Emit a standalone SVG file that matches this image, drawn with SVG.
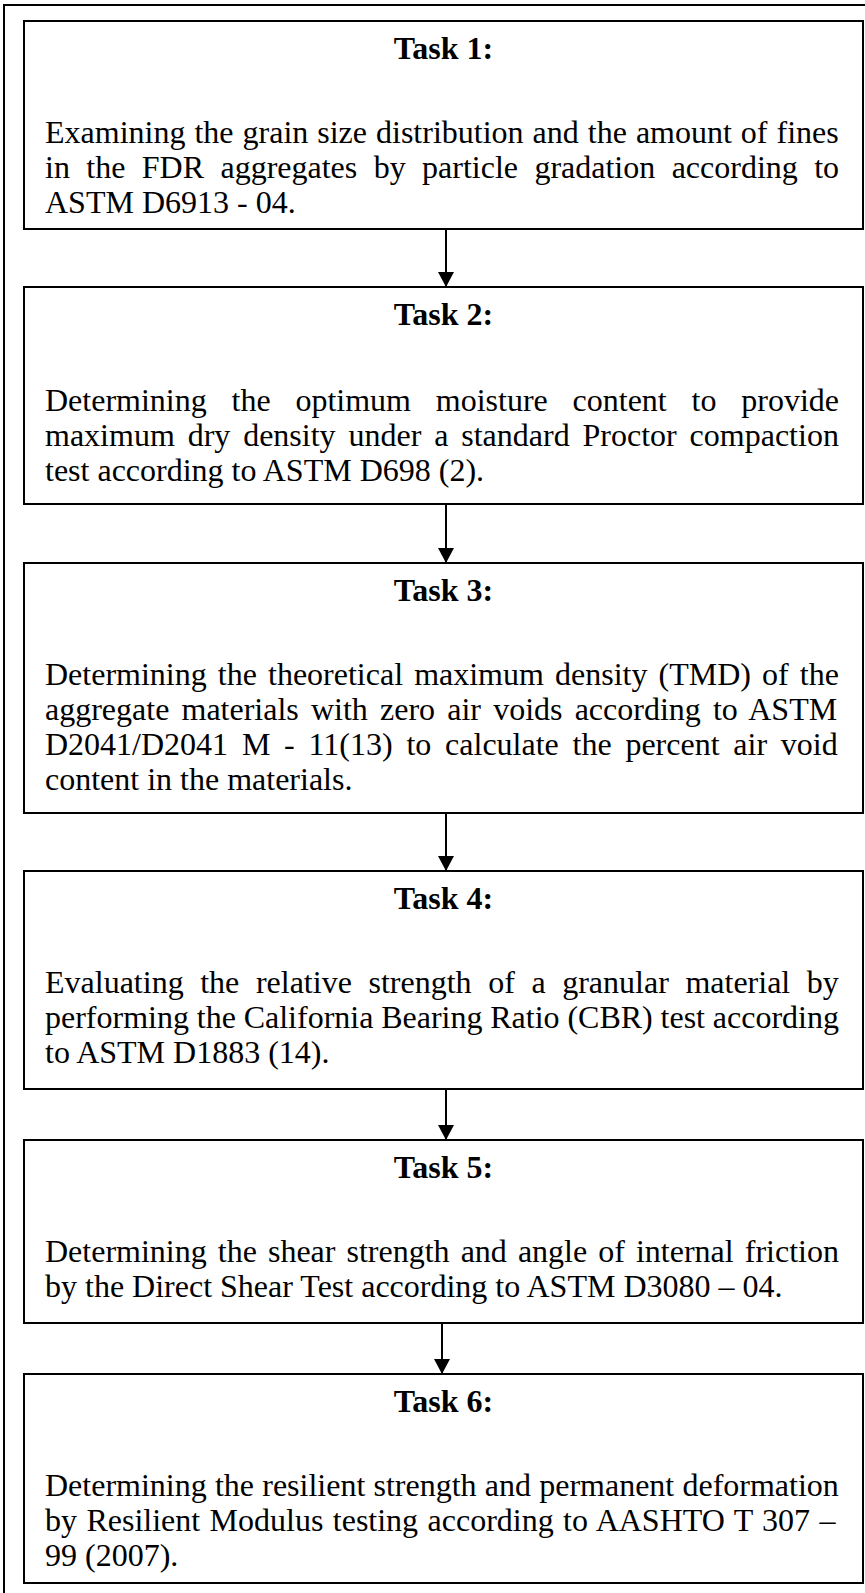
<svg xmlns="http://www.w3.org/2000/svg" width="865" height="1593" viewBox="0 0 865 1593">
<defs>
<style>
.frame{fill:none;stroke:#000;stroke-width:2}
.box{fill:#fff;stroke:#000;stroke-width:2}
.title{font-family:"Liberation Serif","Times New Roman",serif;font-size:32px;font-weight:bold;text-anchor:middle;fill:#000}
.body{font-family:"Liberation Serif","Times New Roman",serif;font-size:32px;fill:#000}
.conn{stroke:#000;stroke-width:2;fill:none}
</style>
<marker id="arr" markerUnits="userSpaceOnUse" markerWidth="16" markerHeight="16" viewBox="0 0 16 16" refX="15" refY="8" orient="auto">
<path d="M0,0 L15,8 L0,16 Z" fill="#000"/>
</marker>
</defs>
<rect width="865" height="1593" fill="#fff"/>
<rect class="frame" x="4" y="5" width="880" height="1610"/>
<g id="task1">
<rect class="box" x="24" y="21" width="839" height="208"/>
<text class="title" x="443.5" y="59">Task 1:</text>
<text class="body" x="45" y="143" word-spacing="1">Examining the grain size distribution and the amount of fines</text>
<text class="body" x="45" y="178" word-spacing="8.4">in the FDR aggregates by particle gradation according to</text>
<text class="body" x="45" y="213">ASTM D6913 - 04.</text>
</g>
<g id="task2">
<rect class="box" x="24" y="287" width="839" height="217"/>
<text class="title" x="443.5" y="325">Task 2:</text>
<text class="body" x="45" y="411" word-spacing="16.8">Determining the optimum moisture content to provide</text>
<text class="body" x="45" y="446" word-spacing="4.87">maximum dry density under a standard Proctor compaction</text>
<text class="body" x="45" y="481">test according to ASTM D698 (2).</text>
</g>
<g id="task3">
<rect class="box" x="24" y="563" width="839" height="250"/>
<text class="title" x="443.5" y="601">Task 3:</text>
<text class="body" x="45" y="685" word-spacing="3.09">Determining the theoretical maximum density (TMD) of the</text>
<text class="body" x="45" y="720" word-spacing="4.16">aggregate materials with zero air voids according to ASTM</text>
<text class="body" x="45" y="755" word-spacing="5.77">D2041/D2041 M - 11(13) to calculate the percent air void</text>
<text class="body" x="45" y="790">content in the materials.</text>
</g>
<g id="task4">
<rect class="box" x="24" y="871" width="839" height="218"/>
<text class="title" x="443.5" y="909">Task 4:</text>
<text class="body" x="45" y="993" word-spacing="8.6">Evaluating the relative strength of a granular material by</text>
<text class="body" x="45" y="1028" word-spacing="-0.2">performing the California Bearing Ratio (CBR) test according</text>
<text class="body" x="45" y="1063">to ASTM D1883 (14).</text>
</g>
<g id="task5">
<rect class="box" x="24" y="1140" width="839" height="183"/>
<text class="title" x="443.5" y="1178">Task 5:</text>
<text class="body" x="45" y="1262" word-spacing="3.05">Determining the shear strength and angle of internal friction</text>
<text class="body" x="45" y="1297">by the Direct Shear Test according to ASTM D3080 – 04.</text>
</g>
<g id="task6">
<rect class="box" x="24" y="1374" width="839" height="209"/>
<text class="title" x="443.5" y="1412">Task 6:</text>
<text class="body" x="45" y="1496" word-spacing="0.2">Determining the resilient strength and permanent deformation</text>
<text class="body" x="45" y="1531" word-spacing="1.41">by Resilient Modulus testing according to AASHTO T 307 –</text>
<text class="body" x="45" y="1566">99 (2007).</text>
</g>
<g id="connectors">
<line class="conn" x1="446" y1="229" x2="446" y2="287" marker-end="url(#arr)"/>
<line class="conn" x1="446" y1="504" x2="446" y2="563" marker-end="url(#arr)"/>
<line class="conn" x1="446" y1="813" x2="446" y2="871" marker-end="url(#arr)"/>
<line class="conn" x1="446" y1="1089" x2="446" y2="1140" marker-end="url(#arr)"/>
<line class="conn" x1="442" y1="1323" x2="442" y2="1374" marker-end="url(#arr)"/>
</g>
</svg>
